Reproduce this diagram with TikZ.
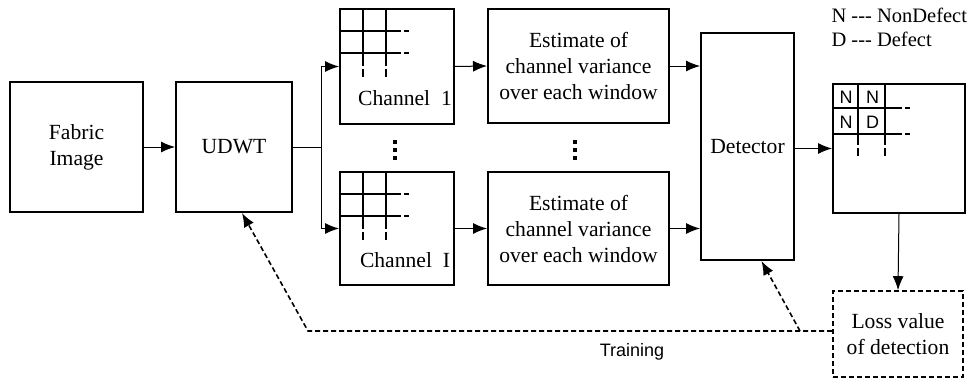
\documentclass[tikz,border=0pt]{standalone}
\usepackage{fontspec}
\setmainfont{Liberation Serif}
\setsansfont{Liberation Sans}
\usetikzlibrary{arrows.meta}
\usetikzlibrary{positioning}

\tikzset{
	blk/.style={draw, line width=2pt, align=center, inner sep=0pt},
	conn/.style={line width=1pt, -{Latex[length=14pt,width=11pt]}},
	fb/.style={conn, line width=1.6pt, dash pattern=on 5pt off 3pt},
	gridln/.style={line width=2pt},
	cell/.style={font=\sffamily\fontsize{18}{20}\selectfont},
}

% window grid drawn in the top left corner of a box
\newcommand{\wingrid}[5]{%
	\foreach \d in {#2} {
		\draw[gridln] ([xshift=\d pt]#1.north west) -- ++(0,#4);
		\draw[gridln] ([xshift=\d pt,yshift=-#4pt-3pt]#1.north west) -- ++(0,8);
	}
	\foreach \d in {#3} {
		\draw[gridln] ([yshift=-\d pt]#1.north west) -- ++(#5,0);
		\draw[gridln] ([xshift=#5pt+3pt,yshift=-\d pt]#1.north west) -- ++(5,0);
	}
}

\begin{document}
\begin{tikzpicture}[x=1pt, y=-1pt, font=\fontsize{21.6}{26}\selectfont]
	\useasboundingbox (0,0) rectangle (970,380);

	\node[blk, minimum width=133pt, minimum height=130pt] (fab) at (76.5,147) {Fabric\\Image};
	\node[blk, minimum width=116pt, minimum height=130pt] (udwt) at (234,147) {UDWT};
	\node[blk, minimum width=114pt, minimum height=115pt] (ch1) at (397,66.5) {};
	\node[blk, minimum width=114pt, minimum height=113pt] (chI) at (397,228.5) {};
	\node[blk, minimum width=181pt, minimum height=114pt] (est1) at (578.5,66) {Estimate of\\channel variance\\over each window};
	\node[blk, minimum width=181pt, minimum height=113pt] (estI) at (578.5,228.5) {Estimate of\\channel variance\\over each window};
	\node[blk, minimum width=93pt, minimum height=227pt] (det) at (747.5,146.5) {Detector};
	\node[blk, minimum width=132pt, minimum height=129pt] (out) at (899,148.5) {};
	\node[blk, dash pattern=on 5pt off 3pt, line width=1.6pt, minimum width=130pt, minimum height=86pt] (loss) at (898,334) {Loss value\\of detection};

	\node (ch1lab) at (405,98) {Channel\enspace 1};
	\node (chIlab) at (405,260) {Channel\enspace I};
	\node[anchor=west, font=\fontsize{20.5}{24}\selectfont] (legN) at (828,15) {N {-}{-}{-} NonDefect};
	\node[anchor=west, font=\fontsize{20.5}{24}\selectfont] (legD) at (828,39) {D {-}{-}{-} Defect};
	\node[font=\sffamily\fontsize{18}{20}\selectfont] (train) at (632,352) {Training};

	\wingrid{ch1}{24,47}{23,45}{58}{62}
	\wingrid{chI}{24,47}{23,45}{58}{62}
	\wingrid{out}{26,53}{25,51}{62}{70}

	\node[cell] (c11) at (846,97) {N};
	\node[cell] (c12) at (872.5,97) {N};
	\node[cell] (c21) at (846,122.5) {N};
	\node[cell] (c22) at (872.5,122.5) {D};

	\foreach \xx in {393,573}
		\foreach \yy in {140,148,156}
			\fill (\xx,\yy) rectangle ++(3.5,4);

	\coordinate (br) at (321,147);
	\coordinate (tl) at (308,331);
	\coordinate (tm) at (800,331);

	\draw[conn] (fab) -- (udwt);
	\draw[line width=1pt] (udwt.east) -- (br);
	\draw[conn] (br) |- (ch1.west);
	\draw[conn] (br) |- (chI.west);
	\draw[conn] (ch1.east) -- (est1.west);
	\draw[conn] (chI.east) -- (estI.west);
	\draw[conn] (est1.east) -- (est1.east -| det.west);
	\draw[conn] (estI.east) -- (estI.east -| det.west);
	\draw[conn] ([yshift=-2pt]det.east) -- ([yshift=-2pt]det.east -| out.west);
	\draw[conn] (out.south) -- (loss.north);
	\draw[fb] (loss.west |- tl) -- (tl) -- ([xshift=8pt]udwt.south);
	\draw[fb] (tm) -- ([xshift=14pt]det.south);
\end{tikzpicture}
\end{document}
